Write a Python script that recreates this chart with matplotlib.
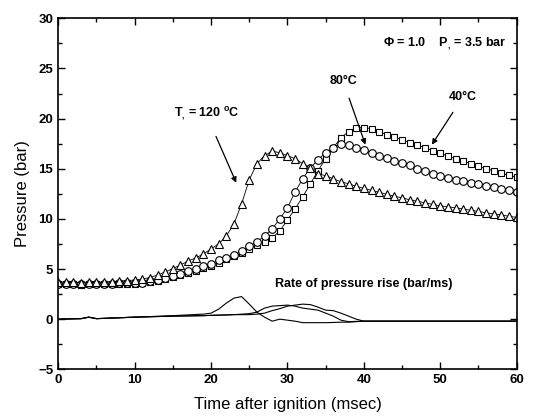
import matplotlib

matplotlib.use("Agg")
import matplotlib.pyplot as plt
from matplotlib.ticker import MultipleLocator

plt.rcParams["font.family"] = ["Liberation Sans", "DejaVu Sans"]
plt.rcParams["mathtext.default"] = "regular"

# time after ignition (msec), one marker per ms
time_ms = list(range(0, 61))

# pressure (bar), T_i = 120 C (triangles)
p_120 = [3.7, 3.7, 3.7, 3.65, 3.7, 3.7, 3.7, 3.75, 3.8, 3.85,
         3.9, 4.0, 4.15, 4.4, 4.7, 5.05, 5.4, 5.8, 6.1, 6.5,
         7.0, 7.5, 8.3, 9.5, 11.5, 13.9, 15.5, 16.3, 16.75, 16.6,
         16.3, 16.0, 15.5, 15.05, 14.5, 14.3, 14.0, 13.7, 13.5, 13.25,
         13.05, 12.85, 12.65, 12.45, 12.25, 12.1, 11.9, 11.75, 11.6, 11.45,
         11.3, 11.2, 11.1, 11.0, 10.85, 10.75, 10.6, 10.5, 10.4, 10.25,
         10.15]

# pressure (bar), T_i = 80 C (circles)
p_80 = [3.55, 3.55, 3.55, 3.5, 3.55, 3.55, 3.55, 3.55, 3.6, 3.6,
        3.6, 3.65, 3.8, 3.95, 4.15, 4.35, 4.55, 4.8, 5.0, 5.3,
        5.55, 5.85, 6.1, 6.4, 6.8, 7.3, 7.7, 8.3, 9.0, 10.0,
        11.1, 12.7, 14.0, 15.1, 15.9, 16.6, 17.1, 17.45, 17.4, 17.1,
        16.85, 16.6, 16.3, 16.05, 15.8, 15.6, 15.35, 15.0, 14.75, 14.5,
        14.3, 14.05, 13.9, 13.75, 13.6, 13.45, 13.3, 13.15, 13.0, 12.85,
        12.7]

# pressure (bar), T_i = 40 C (squares)
p_40 = [3.5, 3.5, 3.5, 3.45, 3.5, 3.5, 3.5, 3.5, 3.5, 3.55,
        3.55, 3.6, 3.7, 3.85, 4.0, 4.2, 4.4, 4.6, 4.85, 5.1,
        5.35, 5.65, 5.95, 6.25, 6.6, 7.0, 7.4, 7.7, 8.1, 8.8,
        9.9, 11.0, 12.2, 13.5, 14.8, 16.0, 17.1, 18.1, 18.7, 19.1,
        19.1, 19.0, 18.7, 18.4, 18.15, 17.9, 17.6, 17.35, 17.1, 16.8,
        16.55, 16.25, 16.0, 15.75, 15.5, 15.25, 15.0, 14.8, 14.55, 14.35,
        14.15]

# rate of pressure rise (bar/ms)
rate_t = [0, 3, 4, 5, 10, 15, 19, 20, 21, 22, 23, 24, 25, 26, 27, 28, 29,
          30, 31, 32, 33, 34, 35, 36, 37, 38, 39, 40, 45, 50, 55, 60]
rate_120 = [0.0, 0.05, 0.2, 0.05, 0.2, 0.35, 0.5, 0.6, 1.0, 1.6, 2.1, 2.25,
            1.5, 0.7, 0.2, -0.2, 0.0, -0.1, -0.2, -0.35, -0.35, -0.35, -0.35,
            -0.33, -0.3, -0.3, -0.25, -0.2, -0.2, -0.2, -0.2, -0.2]
rate_80 = [0.0, 0.05, 0.2, 0.05, 0.2, 0.3, 0.35, 0.38, 0.4, 0.42, 0.45, 0.5,
           0.55, 0.7, 1.1, 1.3, 1.35, 1.4, 1.3, 1.1, 1.0, 0.9, 0.6, 0.3,
           -0.1, -0.25, -0.22, -0.2, -0.2, -0.2, -0.2, -0.2]
rate_40 = [0.0, 0.05, 0.2, 0.05, 0.2, 0.3, 0.35, 0.38, 0.4, 0.42, 0.45, 0.45,
           0.45, 0.5, 0.6, 0.85, 1.05, 1.3, 1.4, 1.5, 1.45, 1.2, 0.9, 0.85,
           0.6, 0.3, 0.0, -0.2, -0.2, -0.2, -0.2, -0.2]

fig = plt.figure(figsize=(5.34, 4.18), dpi=100)
ax = fig.add_axes([0.109, 0.1165, 0.8586, 0.8397])

# open markers joined by a thin line
mk = dict(color="black", lw=0.6, markeredgewidth=0.8,
          markerfacecolor="white", markeredgecolor="black")
ax.plot(time_ms, p_40, marker="s", markersize=5.0, **mk)
ax.plot(time_ms, p_80, marker="o", markersize=5.5, **mk)
ax.plot(time_ms, p_120, marker="^", markersize=5.5, **mk)

for r in (rate_120, rate_80, rate_40):
    ax.plot(rate_t, r, color="black", lw=0.8)

ax.set_xlim(0, 60)
ax.set_ylim(-5, 30)
ax.xaxis.set_major_locator(MultipleLocator(10))
ax.xaxis.set_minor_locator(MultipleLocator(5))
ax.yaxis.set_major_locator(MultipleLocator(5))
ax.yaxis.set_minor_locator(MultipleLocator(2.5))
ax.tick_params(which="both", direction="in", top=True, right=True,
               labelsize=9.5, width=1.0)
ax.tick_params(which="major", length=5)
ax.tick_params(which="minor", length=3)
for lbl in ax.get_xticklabels() + ax.get_yticklabels():
    lbl.set_fontweight("bold")
for s in ax.spines.values():
    s.set_linewidth(1.2)

ax.set_xlabel("Time after ignition (msec)", fontsize=12, labelpad=8)
ax.set_ylabel("Pressure (bar)", fontsize=12, labelpad=6)

ax.text(42.5, 27.5, r"$\Phi$ = 1.0    P$_{,}$ = 3.5 bar", fontsize=9,
        fontweight="bold", va="center", ha="left")

arrow = dict(arrowstyle="-|>", color="black", lw=0.9, mutation_scale=8,
             shrinkA=6, shrinkB=0)
ax.annotate("80°C", xy=(40.2, 17.4), xytext=(37.3, 23.7), fontsize=9,
            fontweight="bold", ha="center", va="center", arrowprops=arrow)
ax.annotate("40°C", xy=(48.9, 17.4), xytext=(53.0, 22.2), fontsize=9,
            fontweight="bold", ha="center", va="center", arrowprops=arrow)
ax.annotate("T$_{,}$ = 120 $^{o}$C", xy=(23.3, 13.6), xytext=(19.4, 20.4),
            fontsize=9, fontweight="bold", ha="center", va="center",
            arrowprops=dict(arrow, shrinkA=8))

ax.text(28.4, 3.5, "Rate of pressure rise (bar/ms)", fontsize=9,
        fontweight="bold", ha="left", va="center")

fig.savefig("out.png", dpi=100)
